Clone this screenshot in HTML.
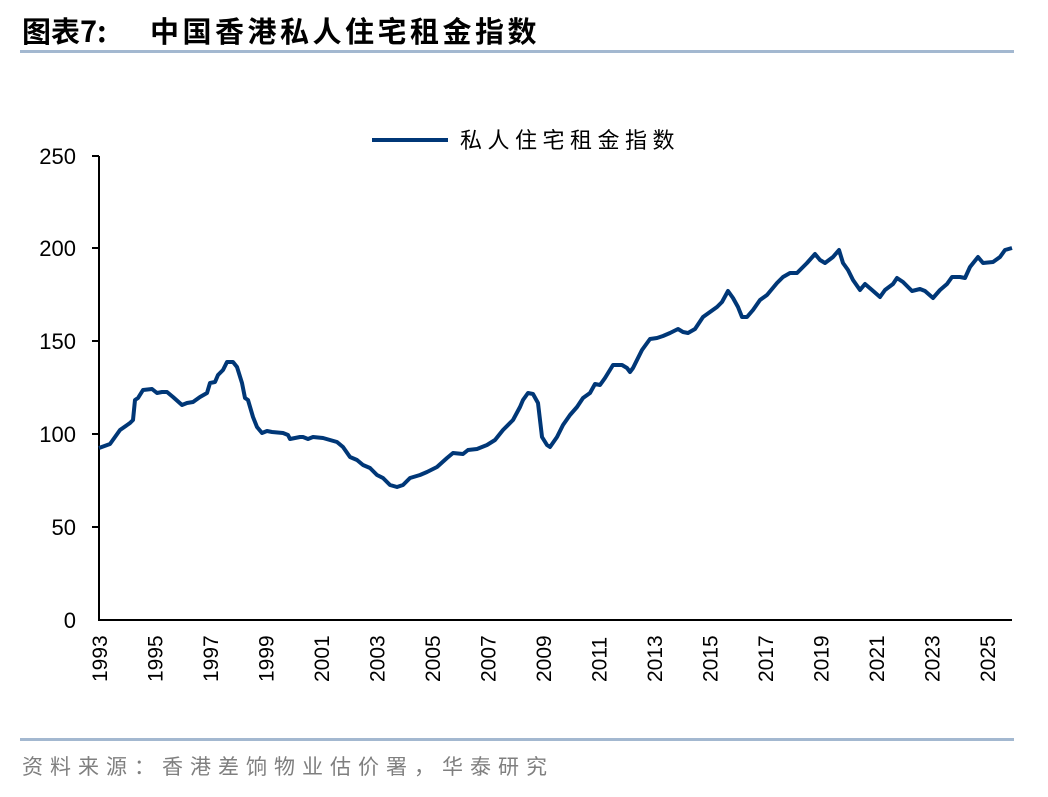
<!DOCTYPE html>
<html><head><meta charset="utf-8"><style>
body{margin:0;background:#fff;width:1048px;height:792px;overflow:hidden}
svg text{font-family:"Liberation Sans","Noto Sans CJK SC",sans-serif}
</style></head><body>
<svg width="1048" height="792" viewBox="0 0 1048 792">
<text x="22" y="42" font-size="29" font-weight="bold" fill="#000" style="font-family:'Noto Sans CJK SC',sans-serif">图表7:</text>
<text x="150" y="42" font-size="29" font-weight="bold" fill="#000" letter-spacing="3.5" style="font-family:'Noto Sans CJK SC',sans-serif">中国香港私人住宅租金指数</text>
<rect x="20" y="50" width="994" height="3" fill="#a3b8d0"/>
<line x1="372" y1="140" x2="448" y2="140" stroke="#003777" stroke-width="4"/>
<text x="460" y="148" font-size="22" letter-spacing="5.5" style="font-family:'Noto Sans CJK SC',sans-serif">私人住宅租金指数</text>
<g stroke="#000" stroke-width="2">
<line x1="99" y1="156" x2="99" y2="621"/><line x1="98" y1="620" x2="1012" y2="620"/>
<line x1="92" y1="156" x2="99" y2="156"/><line x1="92" y1="248" x2="99" y2="248"/><line x1="92" y1="341" x2="99" y2="341"/><line x1="92" y1="434" x2="99" y2="434"/><line x1="92" y1="527" x2="99" y2="527"/>
</g>
<g font-size="22" text-anchor="end">
<text x="76" y="164">250</text><text x="76" y="256">200</text><text x="76" y="349">150</text><text x="76" y="442">100</text><text x="76" y="535">50</text><text x="76" y="628">0</text>
</g>
<g font-size="21">
<text transform="translate(107,682) rotate(-90)">1993</text>
<text transform="translate(162.5,682) rotate(-90)">1995</text>
<text transform="translate(218,682) rotate(-90)">1997</text>
<text transform="translate(273.5,682) rotate(-90)">1999</text>
<text transform="translate(329,682) rotate(-90)">2001</text>
<text transform="translate(384.5,682) rotate(-90)">2003</text>
<text transform="translate(440,682) rotate(-90)">2005</text>
<text transform="translate(495.5,682) rotate(-90)">2007</text>
<text transform="translate(551,682) rotate(-90)">2009</text>
<text transform="translate(606.5,682) rotate(-90)">2011</text>
<text transform="translate(662,682) rotate(-90)">2013</text>
<text transform="translate(717.5,682) rotate(-90)">2015</text>
<text transform="translate(773,682) rotate(-90)">2017</text>
<text transform="translate(828.5,682) rotate(-90)">2019</text>
<text transform="translate(884,682) rotate(-90)">2021</text>
<text transform="translate(939.5,682) rotate(-90)">2023</text>
<text transform="translate(995,682) rotate(-90)">2025</text>
</g>
<polyline fill="none" stroke="#003777" stroke-width="4" stroke-linejoin="round" points="99,448 110,444 120,430 130,423 133,420 135,400 138,398 143,390 152,389 157,393 162,392 167,392 173,397 182,405 187,403 193,402 200,397 207,393 210,383 215,382 218,375 223,370 227,362 233,362 237,367 242,383 245,398 248,400 253,417 257,427 262,433 267,431 272,432 283,433 288,435 290,439 300,437 303,437 308,439 313,437 323,438 337,442 343,447 350,457 357,460 363,465 370,468 377,475 383,478 390,485 397,487 403,485 410,478 420,475 427,472 437,467 447,458 453,453 463,454 468,450 477,449 487,445 495,440 503,430 513,420 520,407 523,400 528,393 533,394 538,403 542,437 547,445 550,447 557,437 563,425 570,415 577,407 583,398 590,393 595,384 600,385 605,378 613,365 622,365 627,368 630,372 633,368 642,350 650,339 657,338 663,336 670,333 678,329 683,332 688,333 695,329 703,317 710,312 717,307 722,302 728,291 733,298 738,307 742,317 747,317 753,310 760,300 767,295 777,283 783,277 790,273 797,273 807,263 815,254 820,260 825,263 833,257 839,250 843,263 848,270 853,280 860,290 865,284 872,290 880,297 885,290 893,284 897,278 903,282 912,291 920,289 925,291 933,298 940,290 947,284 952,277 960,277 965,278 970,267 978,257 983,263 993,262 1000,257 1005,250 1012,248"/>
<rect x="20" y="738" width="994" height="3" fill="#a3b8d0"/>
<text x="22" y="774" font-size="21" fill="#7f7f7f" letter-spacing="7" style="font-family:'Noto Sans CJK SC',sans-serif">资料来源：香港差饷物业估价署，华泰研究</text>
</svg>
</body></html>
